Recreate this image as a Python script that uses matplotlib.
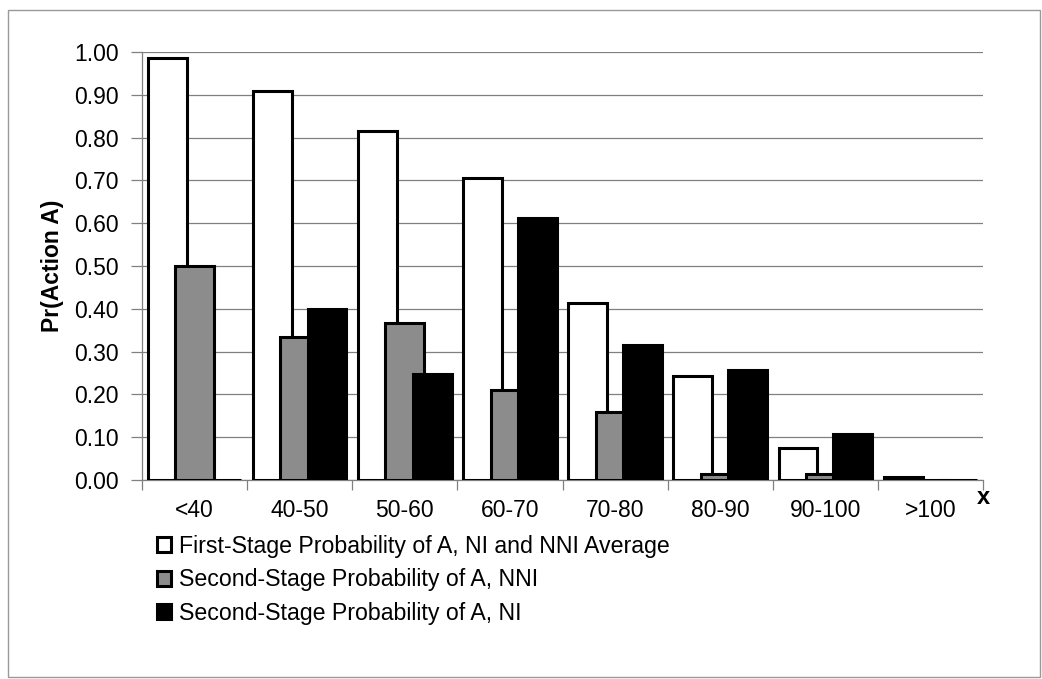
import numpy as np
import matplotlib.pyplot as plt
from matplotlib.patches import Rectangle

plt.rcParams['font.family'] = ['Liberation Sans', 'DejaVu Sans']

# income brackets and probabilities of choosing action A
categories = ['<40', '40-50', '50-60', '60-70', '70-80', '80-90', '90-100', '>100']
first_stage = [0.985, 0.91, 0.816, 0.706, 0.413, 0.243, 0.074, 0.006]
second_nni = [0.50, 0.335, 0.367, 0.21, 0.16, 0.014, 0.014, 0.0]
second_ni = [0.0, 0.40, 0.247, 0.612, 0.316, 0.257, 0.108, 0.0]
labels = ['First-Stage Probability of A, NI and NNI Average',
          'Second-Stage Probability of A, NNI',
          'Second-Stage Probability of A, NI']

fig = plt.figure(figsize=(10.42, 6.79), dpi=100)
ax = fig.add_axes([0.1363, 0.2931, 0.8071, 0.6303])

x = np.arange(len(categories))
w = 0.37
step = 0.26
ax.bar(x - step, first_stage, w, color='white', edgecolor='black', linewidth=2.2, label=labels[0], zorder=3)
ax.bar(x, second_nni, w, color='#8c8c8c', edgecolor='black', linewidth=2.2, label=labels[1], zorder=3)
ax.bar(x + step, second_ni, w, color='black', edgecolor='black', linewidth=2.2, label=labels[2], zorder=3)

ax.set_xlim(-0.5, 7.5)
ax.set_ylim(0, 1.0)
ax.set_yticks(np.arange(0, 1.01, 0.1))
ax.set_yticklabels(['%.2f' % v for v in np.arange(0, 1.01, 0.1)], fontsize=16.5)
ax.yaxis.grid(True, color='#808080', linewidth=0.9, zorder=0)

# boundary ticks between brackets, labels at bracket centres
ax.set_xticks(np.arange(-0.5, 8, 1))
ax.set_xticklabels([])
ax.set_xticks(x, minor=True)
ax.set_xticklabels(categories, minor=True, fontsize=16.5)
ax.tick_params(axis='x', which='major', length=7, color='#808080', width=0.9)
ax.tick_params(axis='x', which='minor', length=0, pad=14)
ax.tick_params(axis='y', length=8, color='#808080', width=0.9, pad=9)

for s in ['top', 'right']:
    ax.spines[s].set_visible(False)
for s in ['left', 'bottom']:
    ax.spines[s].set_color('#808080')
    ax.spines[s].set_linewidth(0.9)

ax.set_ylabel('Pr(Action A)', fontsize=16.5, fontweight='bold', labelpad=7)
fig.text(983 / 1042, 1 - 497 / 679, 'x', fontsize=17, fontweight='bold', ha='center', va='center')

fig.legend(loc='upper left', bbox_to_anchor=(136 / 1042, 1 - 514 / 679), frameon=False,
           fontsize=16.7, handlelength=0.6, handleheight=0.6, handletextpad=0.35, labelspacing=0.45)

fig.patches.append(Rectangle((8 / 1042, 2 / 679), 1032 / 1042, 667 / 679, transform=fig.transFigure,
                             fill=False, edgecolor='#999999', linewidth=1))

fig.savefig('out.png', dpi=100)
